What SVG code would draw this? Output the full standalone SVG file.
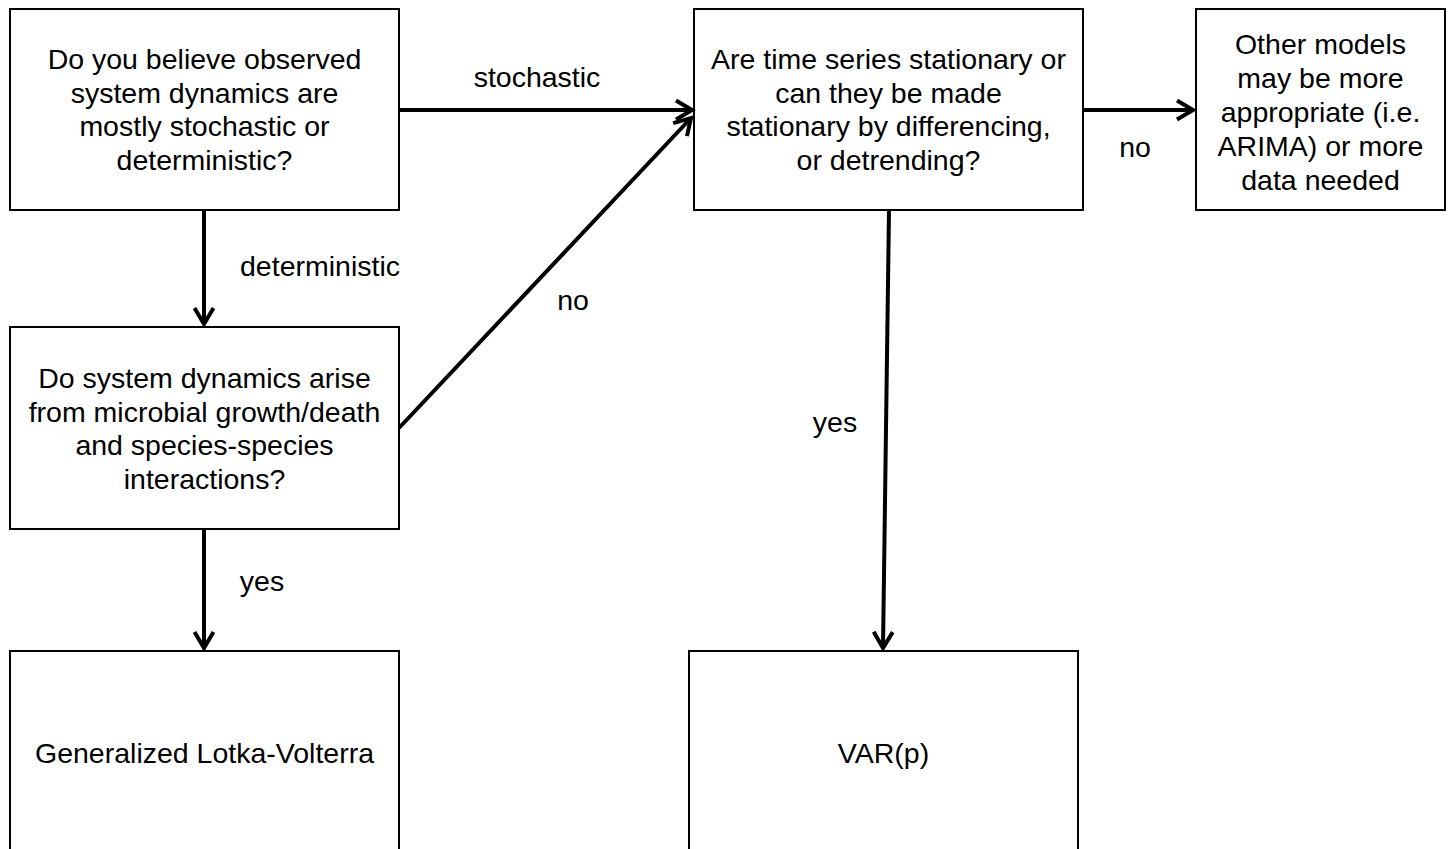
<svg xmlns="http://www.w3.org/2000/svg" width="1448" height="849" viewBox="0 0 1448 849">
<style>
.box{fill:#fff;stroke:#000;stroke-width:2}
.t{font-family:"Liberation Sans",Arial,sans-serif;font-size:28.5px;fill:#000;text-anchor:middle}
.c{stroke:#000;stroke-width:4;fill:none}
</style>
<defs>
<marker id="ah" markerUnits="userSpaceOnUse" markerWidth="30" markerHeight="30" viewBox="-22 -15 30 30" refX="0" refY="0" orient="auto">
<path d="M-16,-9.5 L0,0 L-16,9.5" fill="none" stroke="#000" stroke-width="4" stroke-linejoin="miter"/>
</marker>
</defs>
<rect width="1448" height="849" fill="#fff"/>
<g id="n1"><rect class="box" x="10" y="9" width="389" height="201"/>
<text class="t" x="204.5" y="69">Do you believe observed</text>
<text class="t" x="204.5" y="102.5">system dynamics are</text>
<text class="t" x="204.5" y="136">mostly stochastic or</text>
<text class="t" x="204.5" y="169.5">deterministic?</text></g>
<g id="n2"><rect class="box" x="694" y="9" width="389" height="201"/>
<text class="t" x="888.5" y="69">Are time series stationary or</text>
<text class="t" x="888.5" y="102.5">can they be made</text>
<text class="t" x="888.5" y="136">stationary by differencing,</text>
<text class="t" x="888.5" y="169.5">or detrending?</text></g>
<g id="n3"><rect class="box" x="1196" y="9" width="249" height="201"/>
<text class="t" x="1320.5" y="54">Other models</text>
<text class="t" x="1320.5" y="88">may be more</text>
<text class="t" x="1320.5" y="122">appropriate (i.e.</text>
<text class="t" x="1320.5" y="156">ARIMA) or more</text>
<text class="t" x="1320.5" y="190">data needed</text></g>
<g id="n4"><rect class="box" x="10" y="327" width="389" height="202"/>
<text class="t" x="204.5" y="388">Do system dynamics arise</text>
<text class="t" x="204.5" y="421.5">from microbial growth/death</text>
<text class="t" x="204.5" y="455">and species-species</text>
<text class="t" x="204.5" y="488.5">interactions?</text></g>
<g id="n5"><rect class="box" x="10" y="651" width="389" height="210"/>
<text class="t" x="204.5" y="763">Generalized Lotka-Volterra</text></g>
<g id="n6"><rect class="box" x="689" y="651" width="389" height="210"/>
<text class="t" x="883.5" y="763">VAR(p)</text></g>
<g id="connectors">
<line class="c" x1="399" y1="110" x2="692" y2="110" marker-end="url(#ah)"/>
<line class="c" x1="204" y1="210" x2="204" y2="324" marker-end="url(#ah)"/>
<line class="c" x1="399" y1="428" x2="691" y2="118" marker-end="url(#ah)"/>
<line class="c" x1="1083" y1="110" x2="1193" y2="110" marker-end="url(#ah)"/>
<line class="c" x1="889" y1="210" x2="883" y2="648" marker-end="url(#ah)"/>
<line class="c" x1="204" y1="529" x2="204" y2="648" marker-end="url(#ah)"/>
<text class="t" x="537" y="87">stochastic</text>
<text class="t" x="320" y="276">deterministic</text>
<text class="t" x="573" y="310">no</text>
<text class="t" x="1135" y="157">no</text>
<text class="t" x="835" y="432">yes</text>
<text class="t" x="262" y="591">yes</text>
</g>
</svg>
